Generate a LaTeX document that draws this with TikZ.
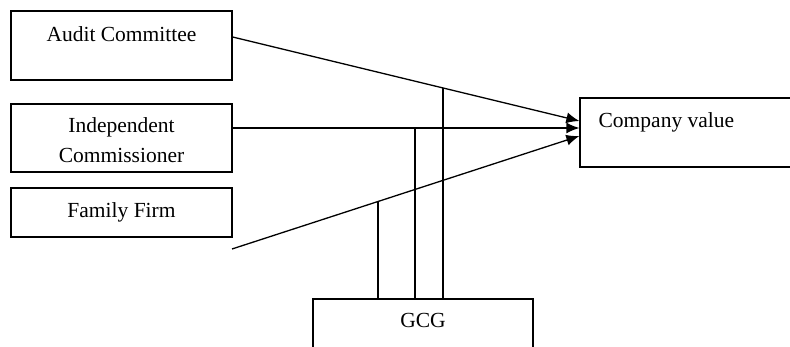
\documentclass[tikz,border=0pt]{standalone}
\usepackage{fontspec}
\setmainfont{Liberation Serif}
\usetikzlibrary{calc,intersections,arrows.meta}
\begin{document}
\begin{tikzpicture}[x=1pt,y=-1pt,line width=1.3pt,
            box/.style={draw,black,inner sep=0pt},
            txt/.style={inner sep=0pt,anchor=base,font=\fontsize{21.5}{30}\selectfont},
            link/.style={-{Latex[length=13pt,width=11pt]}}]
            \clip (0,0) rectangle (790,347);
            \node [box,minimum width=221,minimum height=69] (ac) at (121.5,45.5) {};
            \node [txt] (actxt) at (121.5,42) {Audit Committee};
            \node [box,minimum width=221,minimum height=68] (ic) at (121.5,138) {};
            \node [txt,align=center] (ictxt) at (121.5,163) {Independent\\Commissioner};
            \node [box,minimum width=221,minimum height=49] (ff) at (121.5,212.5) {};
            \node [txt] (fftxt) at (121.5,218) {Family Firm};
            \node [box,minimum width=240,minimum height=69] (cv) at (700,132.5) {};
            \node [txt,anchor=base west] (cvtxt) at (598,128) {Company value};
            \node [box,minimum width=220,minimum height=71] (gcg) at (423,334.5) {};
            \node [txt] (gcgtxt) at (423,328) {GCG};
            \coordinate (ffstart) at (232,249);
            \draw [link,name path=acl] ($(ac.east)+(0,-8.5)$) -- ($(cv.west)+(0,-11.5)$);
            \draw [link,name path=icl] ($(ic.east)+(0,-10)$) -- ($(cv.west)+(0,-4.5)$);
            \draw [link,name path=ffl] (ffstart) -- ($(cv.west)+(0,3.5)$);
            \coordinate (g1) at ($(gcg.north)+(-45,0)$);
            \coordinate (g2) at ($(gcg.north)+(-8,0)$);
            \coordinate (g3) at ($(gcg.north)+(20,0)$);
            \path [name path=v1] (g1) -- ++(0,-300);
            \path [name path=v2] (g2) -- ++(0,-300);
            \path [name path=v3] (g3) -- ++(0,-300);
            \path [name intersections={of=v1 and ffl,by=t1}];
            \path [name intersections={of=v2 and icl,by=t2}];
            \path [name intersections={of=v3 and acl,by=t3}];
            \draw (g1) -- (t1);
            \draw (g2) -- (t2);
            \draw (g3) -- (t3);
\end{tikzpicture}
\end{document}
